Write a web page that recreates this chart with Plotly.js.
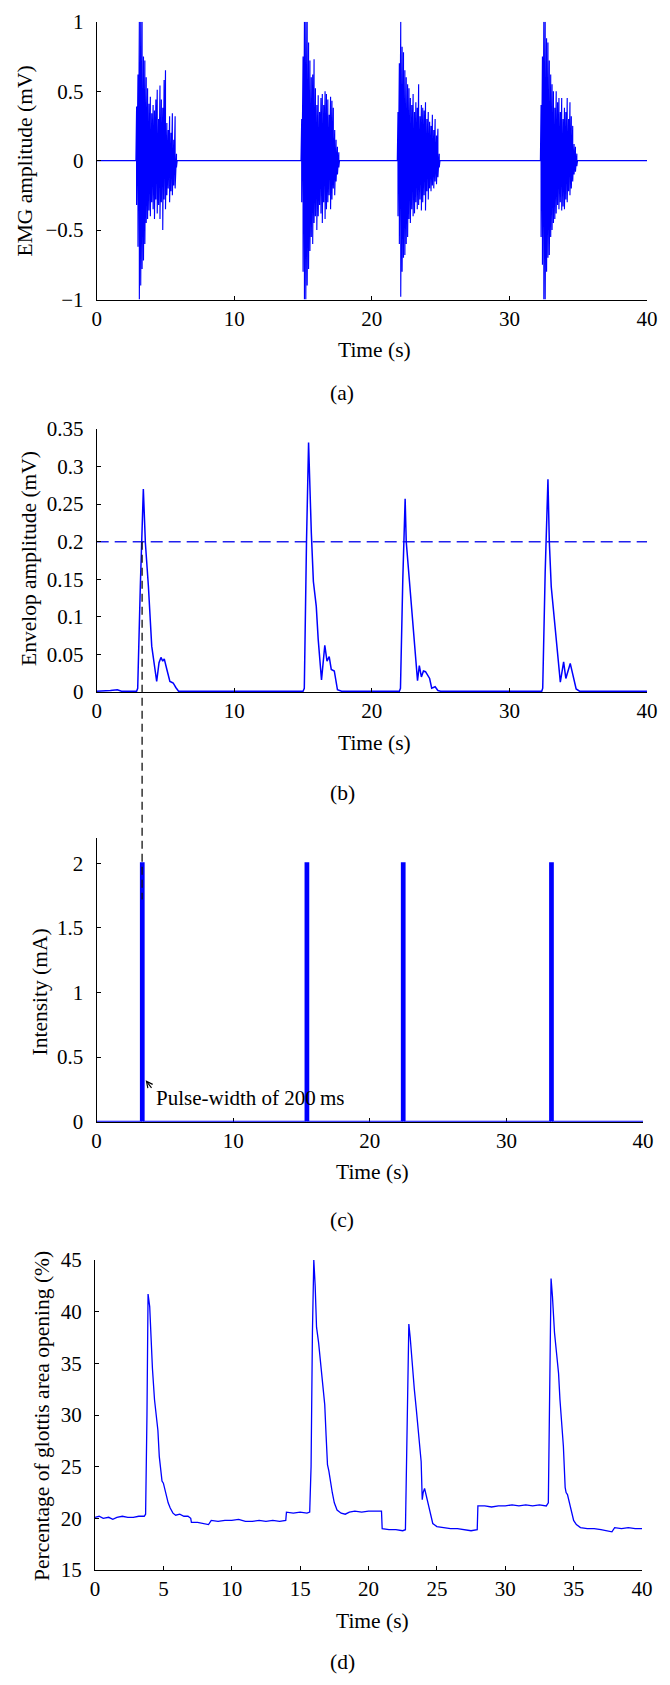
<!DOCTYPE html>
<html><head><meta charset="utf-8">
<script src="https://cdn.plot.ly/plotly-3.0.1.min.js"></script>
<style>html,body{margin:0;padding:0;background:#fff;}#chart{width:670px;height:1685px;}</style>
</head><body><div id="chart"></div>
<script>
// ---------- (a) EMG bursts: spike times, positive and negative peaks (mV) ----------
const emgBaseT = [0, 40];
const emgBaseV = [0, 0];
const emgT1 = [2.85,2.9,3.0,3.1,3.2,3.3,3.4,3.5,3.6,3.7,3.8,3.9,4.0,4.1,4.2,4.3,4.4,4.5,4.6,4.7,4.8,4.9,5.0,5.1,5.2,5.3,5.4,5.5,5.6,5.7,5.8,5.85];
const emgUp1 = [0,0.39,0.62,1.0,1.0,1.0,0.75,0.72,0.6,0.52,0.41,0.46,0.34,0.4,0.36,0.44,0.51,0.3,0.54,0.44,0.38,0.58,0.65,0.27,0.22,0.32,0.2,0.34,0.15,0.32,0.05,0];
const emgDn1 = [0,-0.32,-0.62,-1.0,-0.9,-0.78,-0.72,-0.6,-0.45,-0.42,-0.36,-0.4,-0.3,-0.35,-0.42,-0.28,-0.38,-0.32,-0.42,-0.3,-0.5,-0.28,-0.35,-0.25,-0.2,-0.3,-0.22,-0.25,-0.18,-0.2,-0.05,0];
const emgT2 = [14.85,14.9,15.0,15.1,15.2,15.3,15.4,15.5,15.6,15.7,15.8,15.9,16.0,16.1,16.2,16.3,16.4,16.5,16.6,16.7,16.8,16.9,17.0,17.1,17.2,17.3,17.4,17.5,17.6,17.65];
const emgUp2 = [0,0.3,0.75,1.0,1.0,1.0,0.85,0.72,0.6,0.62,0.73,0.52,0.4,0.47,0.35,0.45,0.48,0.4,0.5,0.48,0.44,0.33,0.46,0.43,0.38,0.22,0.15,0.1,0.06,0];
const emgDn2 = [0,-0.3,-0.8,-1.0,-1.0,-0.9,-0.78,-0.65,-0.55,-0.6,-0.45,-0.4,-0.5,-0.4,-0.32,-0.38,-0.45,-0.3,-0.42,-0.35,-0.3,-0.25,-0.35,-0.28,-0.2,-0.25,-0.15,-0.1,-0.05,0];
const emgT3 = [21.85,21.9,22.0,22.1,22.2,22.3,22.4,22.5,22.6,22.7,22.8,22.9,23.0,23.1,23.2,23.3,23.4,23.5,23.6,23.7,23.8,23.9,24.0,24.1,24.2,24.3,24.4,24.5,24.6,24.7,24.8,24.9,24.95];
const emgUp3 = [0,0.35,0.7,1.0,0.82,0.78,0.65,0.6,0.55,0.52,0.45,0.4,0.48,0.35,0.42,0.38,0.55,0.32,0.4,0.38,0.36,0.42,0.3,0.35,0.28,0.25,0.33,0.22,0.3,0.18,0.23,0.05,0];
const emgDn3 = [0,-0.4,-0.6,-0.98,-0.8,-0.7,-0.68,-0.6,-0.55,-0.42,-0.45,-0.35,-0.4,-0.38,-0.3,-0.35,-0.32,-0.28,-0.36,-0.3,-0.25,-0.36,-0.22,-0.28,-0.2,-0.22,-0.18,-0.2,-0.15,-0.17,-0.12,-0.05,0];
const emgT4 = [32.25,32.3,32.4,32.5,32.6,32.7,32.8,32.9,33.0,33.1,33.2,33.3,33.4,33.5,33.6,33.7,33.8,33.9,34.0,34.1,34.2,34.3,34.4,34.5,34.6,34.7,34.8,34.9,34.95];
const emgUp4 = [0,0.4,0.75,1.0,1.0,0.88,0.85,0.72,0.62,0.55,0.5,0.38,0.5,0.42,0.45,0.35,0.45,0.3,0.38,0.35,0.45,0.3,0.42,0.32,0.25,0.12,0.1,0.05,0];
const emgDn4 = [0,-0.55,-0.75,-1.0,-1.0,-0.8,-0.7,-0.68,-0.55,-0.5,-0.45,-0.42,-0.38,-0.32,-0.35,-0.3,-0.36,-0.33,-0.35,-0.28,-0.3,-0.22,-0.25,-0.2,-0.15,-0.1,-0.08,-0.04,0];

// ---------- (b) envelope (mV) and threshold ----------
const envT = [0,0.8,1.0,1.5,1.8,2.9,2.98,3.17,3.3,3.39,3.54,3.76,4.0,4.22,4.36,4.53,4.67,4.8,4.91,5.1,5.32,5.45,5.56,5.75,5.95,
  15.0,15.09,15.25,15.4,15.6,15.75,15.96,16.1,16.34,16.45,16.58,16.74,16.9,17.05,17.27,17.5,17.8,
  22.0,22.08,22.25,22.42,22.5,22.64,22.86,23.1,23.32,23.45,23.6,23.75,23.9,24.2,24.35,24.6,24.8,25.0,25.3,
  32.35,32.42,32.6,32.8,32.9,33.04,33.2,33.45,33.7,33.94,34.1,34.42,34.68,34.85,35.1,40];
const envV = [0.001,0.001,0.002,0.003,0.001,0.001,0.005,0.14,0.23,0.27,0.198,0.14,0.061,0.034,0.014,0.039,0.046,0.041,0.044,0.03,0.014,0.013,0.012,0.006,0.001,
  0.001,0.005,0.2,0.332,0.212,0.147,0.114,0.07,0.016,0.04,0.062,0.041,0.047,0.03,0.028,0.003,0.001,
  0.001,0.005,0.15,0.257,0.2,0.17,0.12,0.06,0.015,0.035,0.02,0.028,0.027,0.018,0.005,0.007,0.002,0.001,0.001,
  0.001,0.005,0.16,0.283,0.2,0.14,0.11,0.055,0.013,0.04,0.018,0.038,0.018,0.004,0.001,0.001];
const thresholdT = [0, 40];
const thresholdV = [0.2, 0.2];
const connectorT = 3.3;          // s, dashed marker from threshold crossing
const connectorFromB = 0.2;      // mV in (b)
const connectorToC = 1.72;       // mA in (c)

// ---------- (c) stimulation pulses ----------
const pulseStart = [3.25, 15.3, 22.35, 33.2];
const pulseWidth = 0.2;          // s (200 ms)
const pulseAmp = 2;              // mA
const pulseNoteT = 3.6, pulseNoteV = 0.32;

// ---------- (d) glottis opening (%) ----------
const glotT = [0,0.3,0.6,1.0,1.3,1.6,2.0,2.4,2.8,3.2,3.6,3.7,3.8,3.88,4.0,4.1,4.2,4.35,4.5,4.6,4.7,4.78,4.9,5.0,5.1,5.2,5.35,5.5,5.7,5.9,6.2,6.5,6.8,7.0,7.05,7.5,8.0,8.3,8.5,9.0,9.5,10.0,10.5,11.0,11.5,12.0,12.5,13.0,13.5,13.95,14.0,14.5,15.0,15.5,15.7,15.8,15.9,16.0,16.1,16.2,16.35,16.5,16.7,16.8,16.9,17.0,17.1,17.2,17.35,17.5,17.7,18.0,18.3,18.6,19.0,19.5,20.0,20.5,20.95,21.0,21.5,22.0,22.5,22.7,22.8,22.95,23.05,23.2,23.35,23.5,23.7,23.85,23.93,24.0,24.1,24.2,24.35,24.5,24.7,25.0,25.5,26.0,26.5,27.0,27.5,27.95,28.0,28.5,29.0,29.5,30.0,30.5,31.0,31.5,32.0,32.5,33.0,33.15,33.25,33.35,33.45,33.6,33.75,33.9,34.0,34.1,34.25,34.38,34.45,34.55,34.7,34.85,35.0,35.2,35.5,36.0,36.5,37.0,37.5,37.8,38.0,38.5,39.0,39.5,40.0];
const glotV = [20.1,20.2,20.0,20.1,19.9,20.1,20.2,20.1,20.1,20.2,20.2,20.4,30.0,41.7,40.5,37.0,34.5,31.5,29.8,28.5,26.0,25.0,23.6,23.4,22.8,22.3,21.5,21.0,20.5,20.3,20.4,20.2,20.2,20.0,19.6,19.6,19.5,19.4,19.8,19.7,19.8,19.8,19.9,19.7,19.7,19.8,19.7,19.8,19.7,19.8,20.6,20.5,20.6,20.5,20.6,25.0,38.0,45.0,42.5,38.5,37.0,35.0,32.5,31.0,28.0,25.2,24.6,23.6,22.5,21.5,20.8,20.5,20.4,20.6,20.7,20.6,20.7,20.7,20.7,19.0,18.9,18.9,18.8,18.9,28.0,38.8,37.5,34.5,32.5,30.5,28.0,25.5,21.8,22.5,22.9,22.3,21.4,20.4,19.5,19.2,19.1,19.0,19.0,18.9,18.8,18.9,21.2,21.2,21.1,21.2,21.2,21.3,21.2,21.3,21.2,21.3,21.2,21.5,35.0,43.2,41.5,38.0,36.0,34.0,31.5,29.8,27.0,23.0,22.5,22.3,21.5,20.5,19.8,19.4,19.1,19.0,19.0,18.9,18.8,18.7,19.1,19.0,19.1,19.0,19.0];

// ---------- ticks ----------
const ticksA = [-1,-0.5,0,0.5,1], tickTextA = ['\u22121','\u22120.5','0','0.5','1'];
const ticksB = [0,0.05,0.1,0.15,0.2,0.25,0.3,0.35], tickTextB = ['0','0.05','0.1','0.15','0.2','0.25','0.3','0.35'];
const ticksC = [0,0.5,1,1.5,2], tickTextC = ['0','0.5','1','1.5','2'];
const ticksD = [15,20,25,30,35,40,45], tickTextD = ['15','20','25','30','35','40','45'];
const timeTicks10 = [0,10,20,30,40];
const timeTicks5 = [0,5,10,15,20,25,30,35,40];

// ---------- build traces ----------
const blue = '#0000ff';
const emgX = [emgBaseT[0]], emgY = [emgBaseV[0]];
[[emgT1,emgUp1,emgDn1],[emgT2,emgUp2,emgDn2],[emgT3,emgUp3,emgDn3],[emgT4,emgUp4,emgDn4]].forEach(([t,u,d])=>{
  for(let i=0;i<t.length;i++){ emgX.push(t[i],t[i]); emgY.push(u[i],d[i]); }
});
emgX.push(emgBaseT[1]); emgY.push(emgBaseV[1]);

const pX=[0], pY=[0];
pulseStart.forEach(s=>{ pX.push(s,s,s+pulseWidth,s+pulseWidth); pY.push(0,pulseAmp,pulseAmp,0); });
pX.push(40); pY.push(0);

const traces = [
  {x:emgX, y:emgY, xaxis:'x', yaxis:'y', mode:'lines', line:{color:blue,width:1.15}, hoverinfo:'skip'},
  {x:thresholdT, y:thresholdV, xaxis:'x2', yaxis:'y2', mode:'lines', line:{color:'#2020ee',width:1.6,dash:'12px,6px'}, hoverinfo:'skip'},
  {x:envT, y:envV, xaxis:'x2', yaxis:'y2', mode:'lines', line:{color:blue,width:1.5}, hoverinfo:'skip', cliponaxis:false},
  {x:pX, y:pY, xaxis:'x3', yaxis:'y3', mode:'lines', fill:'tozeroy', fillcolor:blue, line:{color:blue,width:2}, hoverinfo:'skip', cliponaxis:false},
  {x:glotT, y:glotV, xaxis:'x4', yaxis:'y4', mode:'lines', line:{color:blue,width:1.3}, hoverinfo:'skip'}
];

// ---------- layout ----------
const W=670, H=1685;
const fx = p => p/W, fy = p => 1 - p/H;
const serif = 'Liberation Serif, Times New Roman, serif';
const axBase = {showline:true, linecolor:'#000', linewidth:1, ticks:'inside', ticklen:4, tickwidth:1, tickcolor:'#000',
  showgrid:false, zeroline:false, fixedrange:true, tickfont:{family:serif,size:21,color:'#000'}, tickmode:'array'};
const xa = (dom, y, vals) => Object.assign({}, axBase, {domain:dom, range:[0,40], anchor:y, tickvals:vals, ticktext:vals.map(String)});
const ya = (dom, x, range, vals, txt) => Object.assign({}, axBase, {domain:dom, range:range, anchor:x, tickvals:vals, ticktext:txt, ticklabelstandoff:8});

const layout = {
  width:W, height:H, margin:{l:0,r:0,t:0,b:0}, paper_bgcolor:'#fff', plot_bgcolor:'rgba(0,0,0,0)', showlegend:false,
  font:{family:serif, color:'#000'},
  xaxis: xa([fx(96.7),fx(647)],'y',timeTicks10),
  yaxis: ya([fy(299.5),fy(21.7)],'x',[-1,1],ticksA,tickTextA),
  xaxis2: xa([fx(96.7),fx(647)],'y2',timeTicks10),
  yaxis2: ya([fy(692),fy(429)],'x2',[0,0.35],ticksB,tickTextB),
  xaxis3: Object.assign(xa([fx(96.5),fx(643)],'y3',timeTicks10),{layer:'below traces'}),
  yaxis3: ya([fy(1121.7),fy(837.5)],'x3',[0,2.2],ticksC,tickTextC),
  xaxis4: xa([fx(95),fx(642)],'y4',timeTicks5),
  yaxis4: ya([fy(1570),fy(1260)],'x4',[15,45],ticksD,tickTextD),
};

const paperY = (ax, v) => ax.domain[0] + (v-ax.range[0])/(ax.range[1]-ax.range[0])*(ax.domain[1]-ax.domain[0]);
layout.shapes = [{type:'line', xref:'x2', yref:'paper', x0:connectorT, x1:connectorT,
  y0:paperY(layout.yaxis2, connectorFromB), y1:paperY(layout.yaxis3, connectorToC),
  line:{color:'#111', width:1.3, dash:'8px,5px'}}];

const tf = {family:serif, size:21.5, color:'#000'};
const txt = (text, x, y, extra) => Object.assign({text, xref:'paper', yref:'paper', x:fx(x), y:fy(y), showarrow:false, font:tf, xanchor:'center', yanchor:'middle'}, extra||{});
layout.annotations = [
  txt('EMG amplitude (mV)', 24.5, 161, {textangle:-90}),
  txt('Time (s)', 374, 350),
  txt('(a)', 342, 393),
  txt('Envelop amplitude (mV)', 29, 559, {textangle:-90}),
  txt('Time (s)', 374, 743),
  txt('(b)', 342, 793),
  txt('Intensity (mA)', 39.5, 992, {textangle:-90}),
  txt('Time (s)', 372, 1172),
  txt('(c)', 342, 1220),
  txt('Percentage of glottis area opening (%)', 42, 1416, {textangle:-90}),
  txt('Time (s)', 372, 1621),
  txt('(d)', 342, 1662),
  txt('Pulse-width of 200\u2009ms', 154, 1098, {xanchor:'left', font:{family:serif,size:21,color:'#000'}}),
  {text:'', xref:'x3', yref:'y3', x:pulseNoteT, y:pulseNoteV, ax:7, ay:9, showarrow:true, arrowhead:5, arrowsize:1, arrowwidth:1.2, arrowcolor:'#000'}
];

Plotly.newPlot('chart', traces, layout, {staticPlot:true, displayModeBar:false});
</script></body></html>
